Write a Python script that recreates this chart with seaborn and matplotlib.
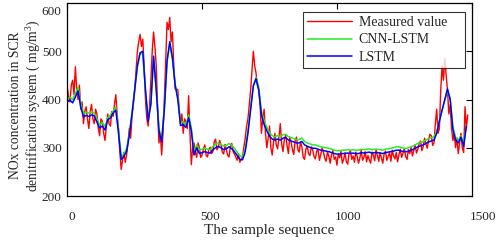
import numpy as np
import pandas as pd
import seaborn as sns
import matplotlib
matplotlib.use("Agg")
import matplotlib.pyplot as plt
from matplotlib.transforms import ScaledTranslation

# measured value, every 5th sample
measured_x = list(range(0, 1490, 5))
measured = [425, 405, 395, 430, 440, 410, 468, 420, 400, 430,
            380, 395, 350, 375, 385, 360, 340, 375, 390, 360,
            350, 380, 370, 340, 325, 360, 355, 330, 315, 345,
            370, 350, 345, 375, 365, 390, 410, 370, 340, 290,
            255, 275, 290, 270, 285, 310, 340, 320, 365, 390,
            420, 460, 500, 520, 535, 510, 525, 470, 400, 360,
            345, 385, 440, 500, 540, 510, 470, 380, 310, 330,
            285, 330, 400, 480, 560, 545, 570, 520, 540, 470,
            422, 422, 420, 380, 350, 370, 330, 360, 355, 340,
            408, 330, 265, 300, 310, 290, 280, 310, 300, 280,
            285, 298, 306, 284, 281, 297, 301, 288, 292, 312,
            318, 296, 301, 315, 306, 291, 287, 307, 296, 284,
            281, 303, 309, 292, 287, 281, 274, 288, 270, 276,
            281, 302, 320, 345, 360, 390, 420, 460, 500, 470,
            455, 430, 420, 390, 330, 360, 380, 330, 300, 320,
            345, 300, 285, 312, 330, 306, 298, 322, 350, 308,
            292, 318, 326, 305, 288, 322, 312, 296, 286, 315,
            322, 296, 291, 312, 302, 280, 276, 298, 303, 287,
            284, 302, 296, 282, 277, 293, 296, 274, 286, 300,
            291, 278, 272, 292, 282, 268, 286, 294, 276, 281,
            264, 287, 279, 293, 268, 276, 290, 271, 266, 289,
            294, 276, 283, 270, 291, 282, 268, 279, 295, 274,
            280, 292, 271, 284, 275, 268, 291, 285, 273, 296,
            284, 272, 290, 279, 268, 287, 293, 274, 282, 290,
            272, 295, 283, 277, 290, 271, 286, 297, 280, 289,
            298, 282, 276, 296, 288, 301, 283, 295, 306, 289,
            297, 309, 314, 294, 303, 320, 308, 299, 316, 328,
            325, 305, 310, 350, 380, 330, 340, 420, 470, 440,
            485, 450, 420, 370, 390, 340, 315, 330, 300, 320,
            288, 310, 330, 300, 290, 385, 340, 368]

# model predictions, every 10th sample
pred_x = list(range(0, 1490, 10))
cnn_lstm = [402, 405, 400, 412, 426, 392, 370, 374, 372, 375,
            372, 360, 348, 352, 344, 362, 368, 376, 384, 338,
            282, 288, 298, 328, 372, 420, 468, 494, 496, 418,
            360, 392, 486, 420, 340, 318, 382, 478, 515, 484,
            432, 404, 352, 354, 348, 368, 342, 292, 306, 296,
            297, 299, 297, 296, 303, 307, 310, 307, 303, 305,
            309, 305, 299, 291, 283, 282, 298, 334, 384, 430,
            446, 426, 376, 356, 342, 331, 325, 323, 325, 323,
            327, 328, 323, 321, 319, 317, 317, 320, 313, 310,
            308, 306, 306, 304, 302, 301, 300, 299, 297, 295,
            294, 294, 295, 295, 296, 295, 296, 295, 295, 297,
            296, 297, 298, 296, 297, 297, 296, 295, 297, 298,
            299, 300, 302, 302, 300, 299, 299, 301, 303, 306,
            309, 311, 313, 316, 319, 321, 323, 334, 356, 378,
            398, 418, 402, 344, 322, 316, 325, 309, 346]

lstm = [395, 399, 393, 405, 418, 384, 364, 367, 365, 368,
        366, 353, 341, 345, 337, 358, 362, 372, 378, 330,
        276, 282, 293, 325, 370, 420, 470, 497, 500, 420,
        355, 390, 490, 420, 335, 312, 380, 480, 520, 486,
        430, 400, 346, 348, 342, 362, 335, 285, 300, 288,
        290, 292, 290, 289, 296, 300, 303, 300, 296, 298,
        302, 298, 292, 284, 276, 275, 292, 330, 380, 428,
        443, 420, 368, 348, 335, 324, 318, 316, 318, 316,
        320, 321, 316, 314, 312, 310, 310, 313, 306, 303,
        301, 299, 299, 297, 295, 294, 293, 292, 290, 288,
        287, 287, 288, 288, 289, 288, 289, 288, 288, 290,
        289, 290, 291, 289, 290, 290, 289, 288, 290, 291,
        292, 293, 295, 295, 293, 292, 292, 294, 296, 299,
        302, 304, 306, 309, 312, 314, 316, 330, 355, 378,
        400, 422, 400, 338, 316, 310, 322, 303, 345]

series_names = ["Measured value", "CNN-LSTM", "LSTM"]
series_colors = ["#ff0000", "#22ee22", "#0000ff"]
x_ticks = [0, 500, 1000, 1500]
y_ticks = [200, 300, 400, 500, 600]

sns.set_theme(style="white")
plt.rcParams["font.family"] = ["Liberation Serif", "DejaVu Serif"]
plt.rcParams["mathtext.fontset"] = "custom"
plt.rcParams["mathtext.rm"] = "Liberation Serif"
plt.rcParams["mathtext.it"] = "Liberation Serif:italic"
plt.rcParams["xtick.direction"] = "in"
plt.rcParams["ytick.direction"] = "in"

df_meas = pd.DataFrame({"x": measured_x, "y": measured})
df_pred = pd.DataFrame({"x": pred_x, "cnn": cnn_lstm, "lstm": lstm})

fig = plt.figure(figsize=(4.98, 2.42), dpi=100)
ax = fig.add_axes([0.1351, 0.19, 0.8122, 0.7975])

sns.lineplot(data=df_meas, x="x", y="y", ax=ax, color=series_colors[0],
             linewidth=1.0, label=series_names[0])
sns.lineplot(data=df_pred, x="x", y="cnn", ax=ax, color=series_colors[1],
             linewidth=1.1, label=series_names[1])
sns.lineplot(data=df_pred, x="x", y="lstm", ax=ax, color=series_colors[2],
             linewidth=1.1, label=series_names[2])

ax.set_xlim(0, 1500)
ax.set_ylim(200, 600)
ax.set_xticks(x_ticks)
ax.set_yticks(y_ticks)
ax.tick_params(axis="both", which="major", labelsize=9.5, length=4,
               width=0.8, color="black", top=True, right=True,
               labeltop=False, labelright=False)
ax.tick_params(axis="x", pad=10.5)
ax.tick_params(axis="y", pad=4)
for sp in ax.spines.values():
    sp.set_color("black")
    sp.set_linewidth(0.9)

# small label shifts as in the reference
x_shift_px = [4.5, 8, 11, 11]
for lab, dx in zip(ax.get_xticklabels(), x_shift_px):
    lab.set_transform(lab.get_transform() +
                      ScaledTranslation(dx / 100, 0, fig.dpi_scale_trans))
top_lab = ax.get_yticklabels()[-1]
top_lab.set_transform(top_lab.get_transform() +
                      ScaledTranslation(0, -7 / 100, fig.dpi_scale_trans))

ax.set_xlabel("The sample sequence", fontsize=11, labelpad=1)
ax.set_ylabel("NOx concentration in SCR\ndenitrification system ( mg/m$^3$)",
              fontsize=9.8, linespacing=1.2)
ax.yaxis.set_label_coords(-0.060, 0.47)

leg = ax.legend(loc="upper left", bbox_to_anchor=(0.583, 0.5, 0.400, 0.453),
                mode="expand", borderaxespad=0, fontsize=10, frameon=True,
                fancybox=False, edgecolor="black", handlelength=3.2,
                handletextpad=0.5, labelspacing=0.3, borderpad=0.3)
leg.get_frame().set_linewidth(0.8)

fig.savefig("out.png", dpi=100)
